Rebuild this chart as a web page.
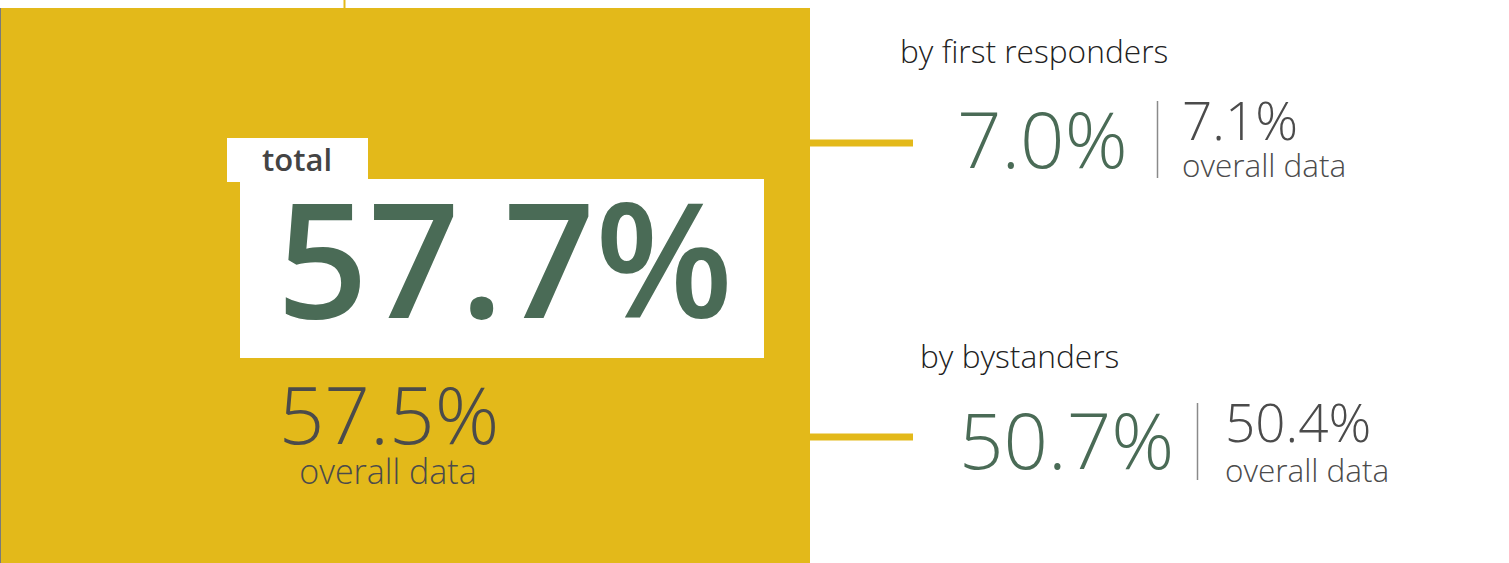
<!DOCTYPE html>
<html>
<head>
<meta charset="utf-8">
<script src="https://cdn.jsdelivr.net/npm/d3@7"></script>
<style>
  body { margin: 0; background: #fff; }
  svg { display: block; font-family: "Open Sans", sans-serif; }
</style>
</head>
<body>
<div class="chart"></div>
<script>
const categories = ["total", "by first responders", "by bystanders"];
const values = [57.7, 7.0, 50.7];
const overall = [57.5, 7.1, 50.4];
const overallLabel = "overall data";

const width = 1509;
const height = 563;
const yellow = "#e3b91a";
const green = "#4a6b56";
const grey = "#4b4b4b";
const fmt = d => d.toFixed(1) + "%";

const svg = d3
  .select(".chart")
  .append("svg")
  .attr("width", width)
  .attr("height", height);

// big yellow block for the total
svg
  .append("rect")
  .attr("x", 0)
  .attr("y", 8)
  .attr("width", 810)
  .attr("height", height - 8)
  .style("fill", yellow);
svg
  .append("line")
  .attr("x1", 0.5)
  .attr("x2", 0.5)
  .attr("y1", 8)
  .attr("y2", height)
  .style("stroke", "#7a7a7a")
  .style("stroke-width", 1);
svg
  .append("line")
  .attr("x1", 344.5)
  .attr("x2", 344.5)
  .attr("y1", 0)
  .attr("y2", 8)
  .style("stroke", yellow)
  .style("stroke-width", 2);

// white label boxes
svg.append("rect").attr("x", 227).attr("y", 138).attr("width", 141).attr("height", 44).style("fill", "#fff");
svg.append("rect").attr("x", 240).attr("y", 179).attr("width", 524).attr("height", 179).style("fill", "#fff");

svg
  .append("text")
  .attr("x", 297)
  .attr("y", 171)
  .attr("text-anchor", "middle")
  .style("font-size", "31px")
  .style("font-weight", 600)
  .style("fill", "#444")
  .text(categories[0]);

svg
  .append("text")
  .attr("x", 505)
  .attr("y", 318)
  .attr("text-anchor", "middle")
  .style("font-size", "160px")
  .style("font-weight", 600)
  .style("fill", green)
  .text(fmt(values[0]));

svg
  .append("text")
  .attr("x", 389)
  .attr("y", 444)
  .attr("text-anchor", "middle")
  .style("font-size", "80px")
  .style("font-weight", 300)
  .style("fill", grey)
  .text(fmt(overall[0]));

svg
  .append("text")
  .attr("x", 388)
  .attr("y", 484)
  .attr("text-anchor", "middle")
  .style("font-size", "34px")
  .style("font-weight", 300)
  .style("fill", grey)
  .text(overallLabel);

// right side rows
const rows = categories.slice(1).map((c, i) => ({
  name: c,
  value: values[i + 1],
  overall: overall[i + 1]
}));

const y = d3
  .scalePoint()
  .domain(rows.map(d => d.name))
  .range([143, 437]);

const layout = [
  { tx: 900, ty: -80, vx: 957, vy: 25, div: 1157, d1: -42, d2: 35, ox: 1182, oy: -3, ly: 34 },
  { tx: 920, ty: -69, vx: 959, vy: 32, div: 1197, d1: -34, d2: 43, ox: 1225, oy: 5, ly: 45 }
];

const g = svg
  .selectAll("g.row")
  .data(rows)
  .enter()
  .append("g")
  .attr("class", "row")
  .attr("transform", d => `translate(0, ${y(d.name)})`);

g.append("line")
  .attr("x1", 810)
  .attr("x2", 913)
  .attr("y1", 0)
  .attr("y2", 0)
  .style("stroke", yellow)
  .style("stroke-width", 7);

g.append("text")
  .attr("x", (d, i) => layout[i].tx)
  .attr("y", (d, i) => layout[i].ty)
  .style("font-size", "31.7px")
  .style("font-weight", 300)
  .style("fill", "#222")
  .text(d => d.name);

g.append("text")
  .attr("x", (d, i) => layout[i].vx)
  .attr("y", (d, i) => layout[i].vy)
  .style("font-size", "78px")
  .style("font-weight", 300)
  .style("fill", green)
  .text(d => fmt(d.value));

g.append("line")
  .attr("x1", (d, i) => layout[i].div + 0.5)
  .attr("x2", (d, i) => layout[i].div + 0.5)
  .attr("y1", (d, i) => layout[i].d1)
  .attr("y2", (d, i) => layout[i].d2)
  .style("stroke", "#8a8a8a")
  .style("stroke-width", 1.5);

g.append("text")
  .attr("x", (d, i) => layout[i].ox)
  .attr("y", (d, i) => layout[i].oy)
  .style("font-size", "53px")
  .style("font-weight", 300)
  .style("fill", grey)
  .text(d => fmt(d.overall));

g.append("text")
  .attr("x", (d, i) => layout[i].ox)
  .attr("y", (d, i) => layout[i].ly)
  .style("font-size", "31.5px")
  .style("font-weight", 300)
  .style("fill", grey)
  .text(overallLabel);
</script>
</body>
</html>
